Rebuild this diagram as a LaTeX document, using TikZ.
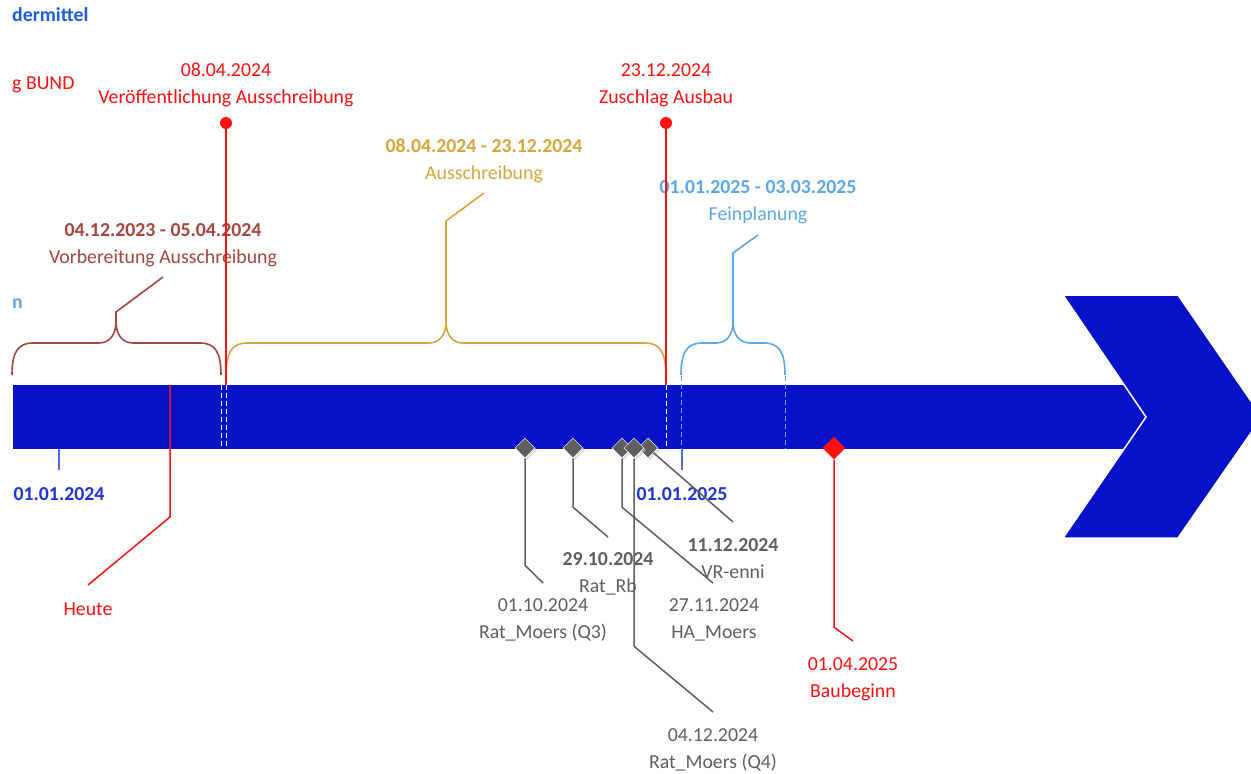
\documentclass[tikz,border=0pt]{standalone}
\usepackage{fontspec}
\setmainfont{Carlito}
\usepackage{xcolor}
\usetikzlibrary{shapes.geometric, shadows, calc}

\definecolor{barblue}{HTML}{0612C8}
\definecolor{tlred}{HTML}{FF1010}
\definecolor{tlbrown}{HTML}{A8443E}
\definecolor{tlgold}{HTML}{D6A53C}
\definecolor{tlsky}{HTML}{5AA8E6}
\definecolor{tlgrey}{HTML}{5E5E5E}
\definecolor{tlblue}{HTML}{1E34D8}

\begin{document}
\begin{tikzpicture}[x=1pt, y=-1pt,
  txt/.style={inner sep=0pt, align=center, yshift=-1.5pt, font=\fontsize{19.8}{27}\selectfont},
  rtxt/.style={txt, text=tlred},
  gtxt/.style={txt, text=tlgrey},
  btxt/.style={txt, text=tlblue, font=\fontsize{19.8}{27}\selectfont\bfseries},
  rline/.style={tlred, line width=1.5pt},
  gline/.style={tlgrey, line width=1.5pt},
  brace/.style={line width=1.6pt},
  wdash/.style={white, dashed, dash pattern=on 5pt off 3pt, line width=1pt},
  sdash/.style={tlsky, dashed, dash pattern=on 5pt off 3pt, line width=1pt},
  rdot/.style={circle, fill=tlred, minimum size=12pt, inner sep=0pt},
  gdiam/.style={diamond, fill=tlgrey, draw=white, line width=0.5pt,
                minimum width=20pt, minimum height=20pt, inner sep=0pt,
                drop shadow={shadow xshift=2pt, shadow yshift=-2pt, fill=black!22, opacity=0.6}},
  rdiam/.style={diamond, fill=tlred, minimum width=23pt, minimum height=23pt, inner sep=0pt}
]
\useasboundingbox (0,0) rectangle (1251,774);

%% TIME BAR
\fill[barblue] (13,385) rectangle (1150,449);
\filldraw[barblue, draw=white, line width=1.5pt]
  (1063,295) -- (1178,295) -- (1262,417) -- (1178,538) -- (1063,538) -- (1146,417) -- cycle;
\coordinate (barTop) at (0,385);
\draw[wdash] (221,385) -- (221,449);
\draw[wdash] (226,385) -- (226,449);
\draw[wdash] (666,385) -- (666,449);
\draw[sdash] (681,376) -- (681,449);
\draw[sdash] (785,376) -- (785,449);

%% LEFT EDGE (cut off)
\node[btxt, anchor=west, text=tlblue!80!cyan] (foerd) at (12,13) {dermittel};
\node[rtxt, anchor=west] (bund) at (12,83) {g BUND};
\node[txt, anchor=west, text=tlsky, font=\fontsize{19.8}{27}\selectfont\bfseries] (lefn) at (12,302) {n};

%% PHASES (braces)
\draw[brace, tlbrown] (12,375) .. controls (12,352) and (18,343) .. (33,343) -- (99,343)
  .. controls (110,343) and (116,334) .. (116,322) .. controls (116,334) and (122,343) .. (133,343)
  -- (200,343) .. controls (215,343) and (221,352) .. (221,375);
\coordinate (vbTip) at (116,322);
\coordinate (vbEnd) at (163,277);
\node[txt, text=tlbrown] (vbLbl) at (163,243.5) {\textbf{04.12.2023 - 05.04.2024}\\Vorbereitung Ausschreibung};
\draw[brace, tlbrown] (vbTip) -- ++(0,-10) -- (vbEnd);

\draw[brace, tlgold] (226,377) .. controls (226,352) and (232,343) .. (247,343) -- (429,343)
  .. controls (440,343) and (446,334) .. (446,322) .. controls (446,334) and (452,343) .. (463,343)
  -- (645,343) .. controls (660,343) and (666,352) .. (666,377);
\coordinate (asTip) at (446,322);
\coordinate (asEnd) at (484,193);
\node[txt, text=tlgold] (asLbl) at (484,159.5) {\textbf{08.04.2024 - 23.12.2024}\\Ausschreibung};
\draw[brace, tlgold] (asTip) -- ++(0,-101) -- (asEnd);

\draw[brace, tlsky] (681,375) .. controls (681,352) and (687,343) .. (702,343) -- (716,343)
  .. controls (727,343) and (733,334) .. (733,322) .. controls (733,334) and (739,343) .. (750,343)
  -- (764,343) .. controls (779,343) and (785,352) .. (785,375);
\coordinate (fpTip) at (733,322);
\coordinate (fpEnd) at (758,235);
\node[txt, text=tlsky] (fpLbl) at (758,201) {\textbf{01.01.2025 - 03.03.2025}\\Feinplanung};
\draw[brace, tlsky] (fpTip) -- ++(0,-69) -- (fpEnd);

%% MILESTONES ABOVE
\node[rtxt] (lVer) at (226,83.5) {08.04.2024\\Veröffentlichung Ausschreibung};
\node[rdot] (msVer) at (226,123) {};
\draw[rline] (msVer) -- (msVer |- barTop);
\node[rtxt] (lZus) at (666,83.5) {23.12.2024\\Zuschlag Ausbau};
\node[rdot] (msZus) at (666,123) {};
\draw[rline] (msZus) -- (msZus |- barTop);

%% TODAY
\coordinate (heute) at (170,385);
\coordinate (heuteEnd) at (88,585);
\node[rtxt] (lHeute) at (88,608) {Heute};
\draw[rline] (heute) -- ++(0,132) -- (heuteEnd);

%% YEAR TICKS
\coordinate (y24) at (59,449);
\coordinate (y25) at (682,449);
\draw[tlblue!75, line width=1.5pt] (y24) -- ++(0,21);
\draw[tlblue!75, line width=1.5pt] (y25) -- ++(0,21);
\node[btxt] (ly24) at (59,493) {01.01.2024};
\node[btxt] (ly25) at (682,493) {01.01.2025};

%% COUNCIL MEETINGS
\node[gdiam] (msQ3) at (525,448) {};
\node[gdiam] (msRb) at (573,448) {};
\node[gdiam] (msHA) at (622,448) {};
\node[gdiam] (msVR) at (648,448) {};
\node[gdiam] (msQ4) at (634,448) {};
\node[gtxt] (lQ3) at (543,618.5) {01.10.2024\\Rat\_Moers (Q3)};
\node[gtxt] (lRb) at (608,572.5) {\textbf{29.10.2024}\\Rat\_Rb};
\node[gtxt] (lHA) at (714,618) {27.11.2024\\HA\_Moers};
\node[gtxt] (lQ4) at (713,748.5) {04.12.2024\\Rat\_Moers (Q4)};
\node[gtxt] (lVR) at (733,557.5) {\textbf{11.12.2024}\\VR-enni};
\coordinate (eQ3) at (543,583);
\coordinate (eRb) at (608,537);
\coordinate (eHA) at (713,583);
\coordinate (eQ4) at (713,712);
\coordinate (eVR) at (733,522);
\draw[gline] (msQ3.south) -- ++(0,107) -- (eQ3);
\draw[gline] (msRb.south) -- ++(0,49) -- (eRb);
\draw[gline] (msHA.south) -- ++(0,49) -- (eHA);
\draw[gline] (msQ4.south) -- ++(0,188) -- (eQ4);
\draw[gline] (msVR) -- (eVR);

%% START OF CONSTRUCTION
\node[rdiam] (msBau) at (834,448) {};
\coordinate (eBau) at (853,641);
\node[rtxt] (lBau) at (853,677.5) {01.04.2025\\Baubeginn};
\draw[rline] (msBau.south) -- ++(0,167.5) -- (eBau);
\end{tikzpicture}
\end{document}
